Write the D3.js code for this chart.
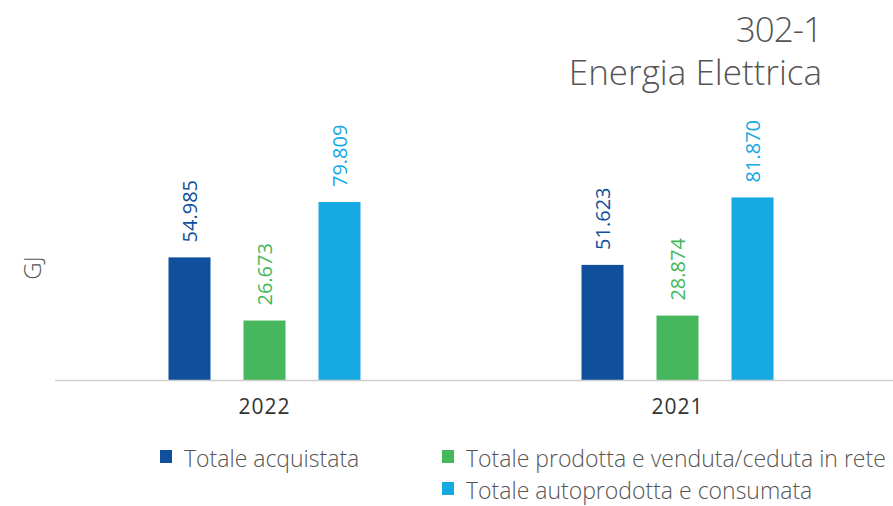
<!DOCTYPE html>
<html>
<head>
<meta charset="utf-8">
<script src="https://cdn.jsdelivr.net/npm/d3@7"></script>
<style>
  body { margin: 0; background: #fff; }
  svg { display: block; font-family: "Open Sans", Lato, sans-serif; }
</style>
</head>
<body>
<svg id="chart"></svg>
<script>
const years = ['2022', '2021'];
const seriesNames = ['Totale acquistata', 'Totale prodotta e venduta/ceduta in rete', 'Totale autoprodotta e consumata'];
const seriesColors = ['#0f4f9c', '#46b75c', '#17a9e1'];
const acquistata = [54985, 51623];
const venduta = [26673, 28874];
const autoprodotta = [79809, 81870];
const labels = [['54.985', '51.623'], ['26.673', '28.874'], ['79.809', '81.870']];

const width = 893;
const height = 506;
const baseY = 380;

const svg = d3.select('#chart')
    .attr('width', width)
    .attr('height', height);

const x0 = d3.scaleBand()
    .domain(years)
    .range([58, 884]);

const x1 = d3.scaleBand()
    .domain(d3.range(seriesNames.length))
    .range([-96, 96])
    .paddingInner(0.44);

const y = d3.scaleLinear()
    .domain([0, 100000])
    .range([baseY, baseY - 223]);

const values = [acquistata, venduta, autoprodotta];

// titolo
svg.append('text')
    .attr('x', 822).attr('y', 42)
    .attr('text-anchor', 'end')
    .attr('font-size', 35).attr('font-weight', 300)
    .attr('letter-spacing', -1)
    .attr('fill', '#555')
    .text('302-1');
svg.append('text')
    .attr('x', 822).attr('y', 85)
    .attr('text-anchor', 'end')
    .attr('font-size', 35).attr('font-weight', 300)
    .attr('fill', '#555')
    .text('Energia Elettrica');

// asse y label
svg.append('text')
    .attr('transform', 'translate(41,268) rotate(-90)')
    .attr('text-anchor', 'middle')
    .attr('font-size', 24).attr('font-weight', 300)
    .attr('fill', '#555')
    .text('GJ');

// barre
years.forEach((yr, i) => {
    const g = svg.append('g')
        .attr('transform', `translate(${x0(yr) + x0.bandwidth() / 2},0)`);
    values.forEach((vals, s) => {
        const v = vals[i];
        g.append('rect')
            .attr('x', x1(s))
            .attr('y', y(v))
            .attr('width', x1.bandwidth())
            .attr('height', baseY - y(v))
            .attr('fill', seriesColors[s]);
        const cx = x1(s) + x1.bandwidth() / 2;
        g.append('text')
            .attr('transform', `translate(${cx + 7},${y(v) - 15}) rotate(-90)`)
            .attr('font-size', 20)
            .attr('fill', seriesColors[s])
            .text(labels[s][i]);
    });
});

// asse x
svg.append('line')
    .attr('x1', 55).attr('x2', width)
    .attr('y1', baseY + 0.5).attr('y2', baseY + 0.5)
    .attr('stroke', '#cfcfcf').attr('stroke-width', 1.5);

svg.append('g')
    .selectAll('text')
    .data(years)
    .join('text')
    .attr('x', d => x0(d) + x0.bandwidth() / 2)
    .attr('y', 414)
    .attr('text-anchor', 'middle')
    .attr('font-size', 21)
    .attr('letter-spacing', 1)
    .attr('fill', '#333')
    .text(d => d);

// legenda
const legendPos = [[160, 467], [442, 467], [442, 499]];
const legend = svg.append('g');
seriesNames.forEach((name, s) => {
    const [lx, ly] = legendPos[s];
    legend.append('rect')
        .attr('x', lx).attr('y', ly - 17)
        .attr('width', 12).attr('height', 13)
        .attr('fill', seriesColors[s]);
    legend.append('text')
        .attr('x', lx + 24).attr('y', ly)
        .attr('font-size', 23).attr('font-weight', 300)
        .attr('fill', '#555')
        .text(name);
});
</script>
</body>
</html>
